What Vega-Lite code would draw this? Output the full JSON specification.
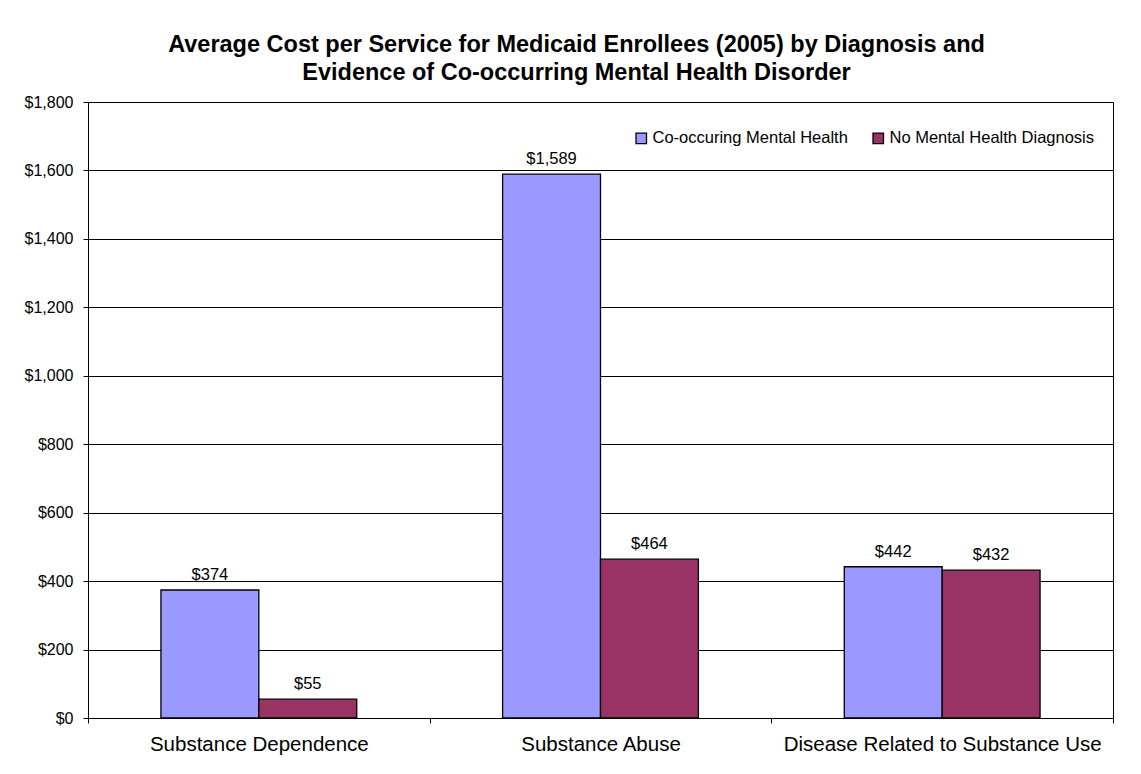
{
  "$schema": "https://vega.github.io/schema/vega-lite/v6.json",
  "width": 1025,
  "height": 616,
  "autosize": {"type": "none"},
  "padding": {"left": 88, "top": 102, "right": 28, "bottom": 56},
  "background": "white",
  "title": {
    "text": ["Average Cost per Service for Medicaid Enrollees (2005) by Diagnosis and", "Evidence of Co-occurring Mental Health Disorder"],
    "font": "Liberation Sans",
    "fontSize": 23.5,
    "fontWeight": "bold",
    "lineHeight": 28,
    "anchor": "middle",
    "dx": -24,
    "offset": 10,
    "color": "black"
  },
  "config": {
    "font": "Liberation Sans",
    "view": {"stroke": "black", "strokeWidth": 1},
    "axis": {"labelColor": "black", "domainColor": "black", "tickColor": "black", "labelFont": "Liberation Sans"}
  },
  "data": {
    "values": [
      {"diagnosis": "Substance Dependence", "group": "Co-occuring Mental Health", "cost": 374},
      {"diagnosis": "Substance Dependence", "group": "No Mental Health Diagnosis", "cost": 55},
      {"diagnosis": "Substance Abuse", "group": "Co-occuring Mental Health", "cost": 1589},
      {"diagnosis": "Substance Abuse", "group": "No Mental Health Diagnosis", "cost": 464},
      {"diagnosis": "Disease Related to Substance Use", "group": "Co-occuring Mental Health", "cost": 442},
      {"diagnosis": "Disease Related to Substance Use", "group": "No Mental Health Diagnosis", "cost": 432}
    ]
  },
  "encoding": {
    "x": {
      "field": "diagnosis",
      "type": "nominal",
      "sort": ["Substance Dependence", "Substance Abuse", "Disease Related to Substance Use"],
      "scale": {"paddingInner": 0, "paddingOuter": 0},
      "axis": {
        "title": null,
        "labelAngle": 0,
        "labelFontSize": 20.5,
        "labelPadding": 11,
        "labelLimit": 400,
        "tickBand": "extent",
        "tickSize": 5,
        "grid": false
      }
    },
    "xOffset": {
      "field": "group",
      "type": "nominal",
      "scale": {"paddingInner": 0, "paddingOuter": 0.745}
    },
    "y": {
      "field": "cost",
      "type": "quantitative",
      "scale": {"domain": [0, 1800], "nice": false},
      "axis": {
        "title": null,
        "values": [0, 200, 400, 600, 800, 1000, 1200, 1400, 1600, 1800],
        "format": "$,.0f",
        "labelFontSize": 16,
        "labelPadding": 10,
        "tickSize": 5,
        "grid": true,
        "gridColor": "black",
        "gridOpacity": 1,
        "gridWidth": 1
      }
    }
  },
  "layer": [
    {
      "mark": {"type": "bar", "stroke": "black", "strokeWidth": 1.3},
      "encoding": {
        "color": {
          "field": "group",
          "type": "nominal",
          "scale": {"domain": ["Co-occuring Mental Health", "No Mental Health Diagnosis"], "range": ["#9999FF", "#993366"]},
          "legend": {
            "title": null,
            "orient": "none",
            "direction": "horizontal",
            "legendX": 545,
            "legendY": 28,
            "symbolType": "square",
            "symbolSize": 110,
            "symbolStrokeColor": "black",
            "symbolStrokeWidth": 1.3,
            "symbolOpacity": 1,
            "labelFontSize": 16.5,
            "labelFont": "Liberation Sans",
            "labelColor": "black",
            "labelOffset": 3,
            "columnPadding": 22,
            "labelLimit": 400
          }
        }
      }
    },
    {
      "mark": {"type": "text", "dy": -10, "baseline": "alphabetic", "fontSize": 16.5, "color": "black"},
      "encoding": {
        "text": {"field": "cost", "type": "quantitative", "format": "$,.0f"}
      }
    }
  ]
}
